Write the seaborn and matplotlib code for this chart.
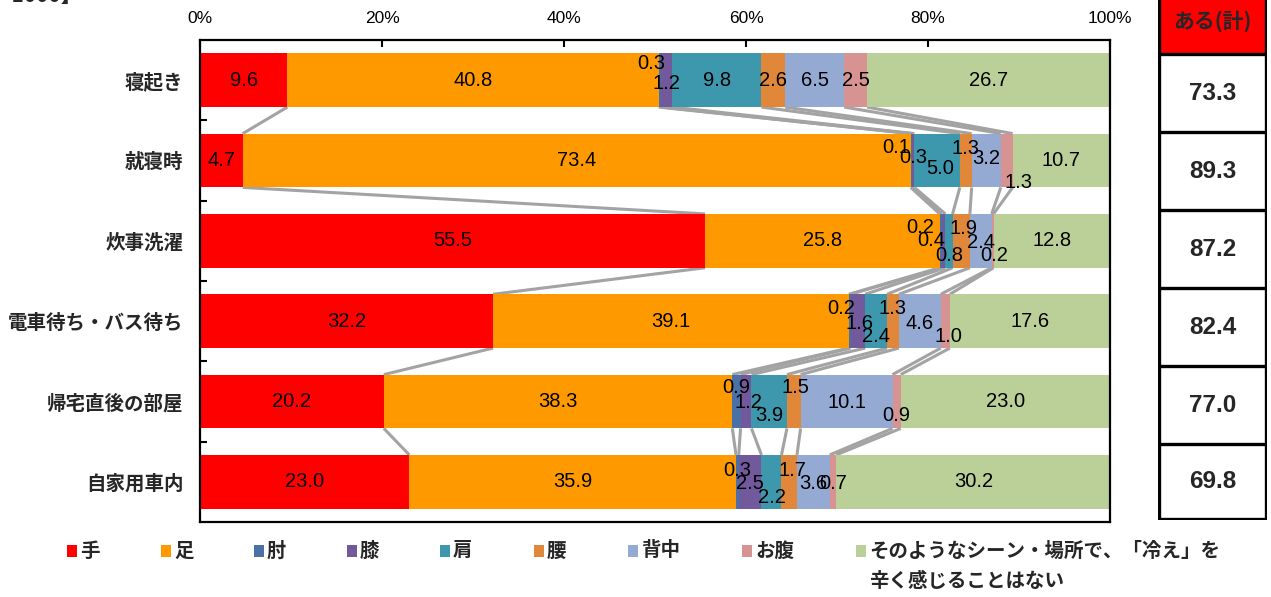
import matplotlib
matplotlib.use("Agg")
import matplotlib.pyplot as plt
import seaborn as sns
import numpy as np
from matplotlib.patches import Rectangle

# ---------------- data ----------------
categories = ["寝起き", "就寝時", "炊事洗濯", "電車待ち・バス待ち", "帰宅直後の部屋", "自家用車内"]
series_names = ["手", "足", "肘", "膝", "肩", "腰", "背中", "お腹",
                "そのようなシーン・場所で、「冷え」を\n辛く感じることはない"]
hand = [9.6, 4.7, 55.5, 32.2, 20.2, 23.0]
foot = [40.8, 73.4, 25.8, 39.1, 38.3, 35.9]
elbow = [0.3, 0.1, 0.2, 0.2, 0.9, 0.3]
knee = [1.2, 0.3, 0.4, 1.6, 1.2, 2.5]
shoulder = [9.8, 5.0, 0.8, 2.4, 3.9, 2.2]
waist = [2.6, 1.3, 1.9, 1.3, 1.5, 1.7]
back = [6.5, 3.2, 2.4, 4.6, 10.1, 3.6]
belly = [2.5, 1.3, 0.2, 1.0, 0.9, 0.7]
no_cold = [26.7, 10.7, 12.8, 17.6, 23.0, 30.2]
total_header = "ある(計)"
total_some = [73.3, 89.3, 87.2, 82.4, 77.0, 69.8]
xtick_values = [0, 20, 40, 60, 80, 100]

# ---------------- style ----------------
colors = ["#FF0000", "#FF9900", "#4A71A6", "#72599B", "#3D98AE",
          "#E0873A", "#95AAD3", "#D69391", "#BBD098"]
# label offsets (pixels: dx right, dy down) for the small series 肘..お腹 per row
label_offsets = [
    [(-9, -17), (0, 3), (0, 0), (0, 0), (0, 0), (0, 0)],
    [(-15, -13), (0, -3), (3, 8), (0, -12), (0, -2), (12, 22)],
    [(-21, -13), (-12, 0), (0, 15), (2, -12), (0, 2), (2, 15)],
    [(-9, -13), (2, 2), (0, 15), (0, -13), (0, 2), (3, 15)],
    [(0, -14), (2, 1), (0, 14), (2, -14), (0, 1), (0, 14)],
    [(0, -11), (0, 2), (0, 16), (3, -11), (0, 2), (0, 2)],
]

sns.set_theme(style="white")
JP = ["Noto Sans CJK JP", "DejaVu Sans"]
NUM = ["Liberation Sans", "DejaVu Sans"]
plt.rcParams["font.family"] = JP

W, H = 1271, 597
fig = plt.figure(figsize=(W / 100, H / 100), dpi=100)
ax = fig.add_axes([200 / W, 1 - 522 / H, 910 / W, 482 / H])

values = np.array([hand, foot, elbow, knee, shoulder, waist, back, belly, no_cold]).T
cum = values.cumsum(axis=1)
bar_h = 0.67

for j in reversed(range(values.shape[1])):
    sns.barplot(x=cum[:, j], y=categories, order=categories, orient="h",
                color=colors[j], saturation=1, width=bar_h, edgecolor="none",
                linewidth=0, ax=ax, zorder=2)

# series lines
n = len(categories)
for j in range(values.shape[1]):
    for i in range(n - 1):
        ax.plot([min(cum[i, j], 100), min(cum[i + 1, j], 100)],
                [i + bar_h / 2, i + 1 - bar_h / 2],
                color="#A3A3A3", lw=2.2, zorder=1, solid_capstyle="butt")

# value labels
for i in range(n):
    left = 0.0
    for j in range(values.shape[1]):
        v = values[i, j]
        cx = left + v / 2
        dx, dy = (0, 0)
        if 2 <= j <= 7:
            dx, dy = label_offsets[i][j - 2]
        ax.annotate(f"{v:.1f}", xy=(cx, i), xytext=(dx * 0.72, -dy * 0.72),
                    textcoords="offset points", ha="center", va="center",
                    fontsize=14.5, family=NUM, color="black", zorder=5)
        left += v

ax.set_xlim(0, 100)
ax.set_ylim(n - 0.5, -0.5)
ax.xaxis.tick_top()
ax.set_xticks(xtick_values)
ax.set_xticklabels([f"{v}%" for v in xtick_values], family=NUM, fontsize=12.5)
ax.tick_params(axis="x", direction="in", length=5, width=1.5, pad=10, top=True,
               bottom=False, colors="black")
ax.set_yticks(range(n))
ax.set_yticklabels(categories, fontsize=14, fontweight="bold", family=JP)
ax.tick_params(axis="y", which="major", length=0, pad=12)
ax.set_yticks(np.arange(0.5, n - 0.5, 1), minor=True)
ax.tick_params(axis="y", which="minor", direction="in", length=5, width=1.5,
               left=True, color="black")
ax.set_xlabel("")
ax.set_ylabel("")
for s in ax.spines.values():
    s.set_visible(True)
    s.set_color("black")
    s.set_linewidth(1.6)
ax.grid(False)

# ---------------- right-side table ----------------
tx0, tx1 = 1158, 1267
tab = fig.add_axes([tx0 / W, 1 - 520 / H, (tx1 - tx0) / W, 520 / H])
tab.set_xlim(0, tx1 - tx0)
tab.set_ylim(520, 0)
tab.axis("off")
tab.add_patch(Rectangle((0, 0), tx1 - tx0, 53, facecolor="#FF0000",
                        edgecolor="none", zorder=1))
row_edges = [54, 132, 210, 288, 366, 444, 519]
for y in row_edges:
    tab.plot([0, tx1 - tx0], [y, y], color="black", lw=2.4, zorder=3,
             solid_capstyle="projecting")
for x in [1.2, tx1 - tx0 - 1.2]:
    tab.plot([x, x], [0, 519], color="black", lw=2.4, zorder=3)
tab.text((tx1 - tx0) / 2, 21, total_header, ha="center", va="center",
         fontsize=15, fontweight="bold", family=JP)
for k, v in enumerate(total_some):
    yc = (row_edges[k] + row_edges[k + 1]) / 2
    tab.text((tx1 - tx0) / 2, yc, f"{v:.1f}", ha="center", va="center",
             fontsize=17.5, fontweight="bold", family=NUM)

# ---------------- legend ----------------
leg_x = [67, 161, 254, 347, 440, 534, 628, 742, 856]
leg_y = 551
for k, name in enumerate(series_names):
    fig.patches.append(Rectangle((leg_x[k] / W, 1 - (leg_y + 6) / H), 10 / W, 12 / H,
                                 transform=fig.transFigure, facecolor=colors[k],
                                 edgecolor="none"))
    lines = name.split("\n")
    for li, line in enumerate(lines):
        fig.text((leg_x[k] + 13) / W, 1 - (leg_y + li * 30) / H, line,
                 ha="left", va="center", fontsize=14, fontweight="bold", family=JP)

# clipped title fragment at top-left
fig.text(82 / W, 1 - 6 / H, "【n=1000】", ha="right", va="bottom",
         fontsize=15, fontweight="bold", family=JP)

fig.savefig("out.png", dpi=100)
